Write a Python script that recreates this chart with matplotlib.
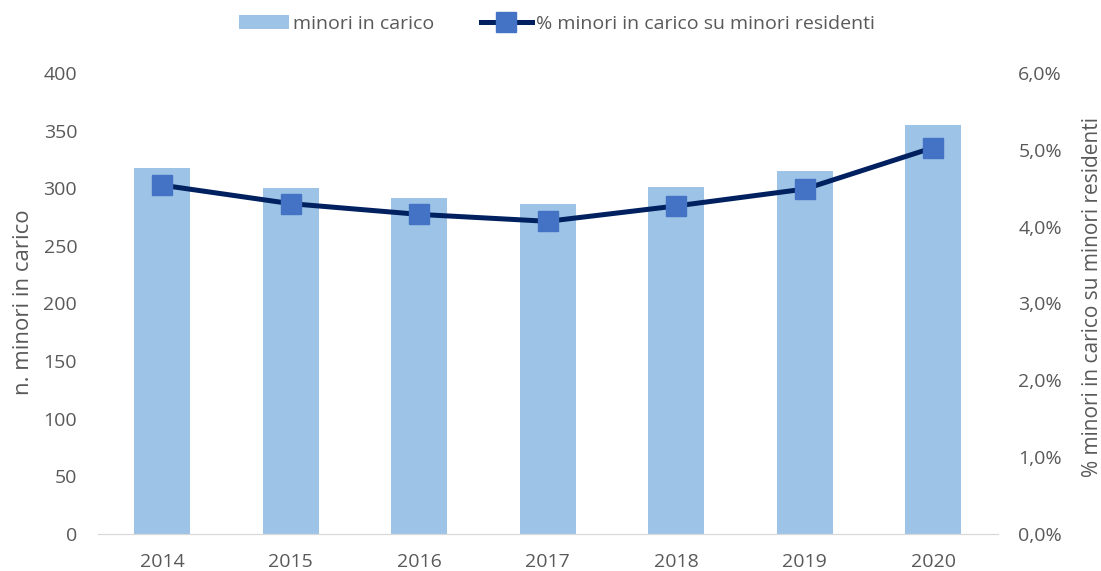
import matplotlib
matplotlib.use('Agg')
import matplotlib.pyplot as plt
from matplotlib.ticker import FuncFormatter

anni = ['2014', '2015', '2016', '2017', '2018', '2019', '2020']
minori_in_carico = [318, 300, 292, 286, 301, 315, 355]
perc_minori = [4.54, 4.30, 4.16, 4.07, 4.27, 4.49, 5.03]

GRIGIO = '#595959'
plt.rcParams['font.family'] = ['Open Sans', 'DejaVu Sans']

fig = plt.figure(figsize=(11.01, 5.71), dpi=100)
ax = fig.add_axes([0.089, 0.065, 0.817, 0.807])
ax2 = ax.twinx()

x = range(len(anni))
barre = ax.bar(x, minori_in_carico, width=0.435, color='#9DC3E6', zorder=2)
linea, = ax2.plot(x, perc_minori, color='#002060', linewidth=3.6, marker='s',
                  markersize=14, markerfacecolor='#4472C4', markeredgecolor='#4472C4',
                  zorder=3)

ax.set_xlim(-0.5, 6.5)
ax.set_ylim(0, 400)
ax.set_yticks(range(0, 401, 50))
ax2.set_ylim(0, 6)
ax2.set_yticks(range(0, 7))
ax2.yaxis.set_major_formatter(FuncFormatter(lambda v, p: f'{v:.1f}%'.replace('.', ',')))
ax.set_xticks(list(x))
ax.set_xticklabels(anni)

for a in (ax, ax2):
    for s in ('top', 'left', 'right'):
        a.spines[s].set_visible(False)
    a.spines['bottom'].set_color('#D9D9D9')
    a.tick_params(length=0, labelsize=14, labelcolor=GRIGIO)
ax.tick_params(axis='y', pad=15)
ax.tick_params(axis='x', pad=14)
ax2.tick_params(axis='y', pad=15)

fig.text(24 / 1101, 1 - 302 / 571, 'n. minori in carico', fontsize=16, color=GRIGIO,
         rotation=90, ha='center', va='center')
fig.text(1092 / 1101, 1 - 297 / 571, '% minori in carico su minori residenti', fontsize=15,
         color=GRIGIO, rotation=90, ha='center', va='center')

ax2.set_zorder(ax.get_zorder() + 1)
ax2.patch.set_visible(False)

fig.legend([barre, linea], ['minori in carico', '% minori in carico su minori residenti'],
           loc='center', bbox_to_anchor=(0.5055, 0.958), ncol=2, frameon=False,
           fontsize=14, labelcolor=GRIGIO, handlelength=2.6, columnspacing=2.4,
           handletextpad=0.2)

fig.savefig('out.png', dpi=100)
